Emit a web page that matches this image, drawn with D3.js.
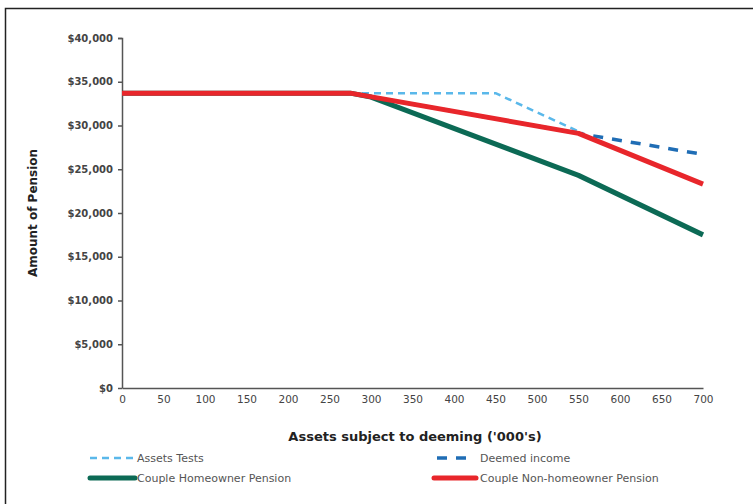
<!DOCTYPE html>
<html><head><meta charset="utf-8">
<script src="https://cdn.jsdelivr.net/npm/d3@7"></script>
<style>body{margin:0;background:#fff}svg{display:block}</style>
</head><body><div id="c"></div>
<script>
const xTicks = [0,50,100,150,200,250,300,350,400,450,500,550,600,650,700];
const yTicks = [0,5000,10000,15000,20000,25000,30000,35000,40000];
const assetsX = [0,450,555];
const assetsY = [33700,33700,29100];
const deemedX = [0,275,550,700];
const deemedY = [33700,33700,29100,26700];
const homeownerX = [0,275,300,550,700];
const homeownerY = [33700,33700,33250,24300,17500];
const nonHomeX = [0,275,550,700];
const nonHomeY = [33700,33700,29100,23300];
const legendLabels = ["Assets Tests","Deemed income","Couple Homeowner Pension","Couple Non-homeowner Pension"];

const W=753,H=504;
const svg=d3.select("#c").append("svg").attr("width",W).attr("height",H);
svg.append("rect").attr("x",5.5).attr("y",8.5).attr("width",760).attr("height",520)
  .attr("fill","none").attr("stroke","#222").attr("stroke-width",1.5);

const x=d3.scaleLinear().domain([0,700]).range([122,703]);
const y=d3.scaleLinear().domain([0,40000]).range([388,38]);

// y axis
const ya=svg.append("g").attr("transform","translate(122,0)")
  .call(d3.axisLeft(y).tickValues(yTicks).tickSize(4).tickPadding(5)
    .tickFormat(d=>"$"+d3.format(",")(d)));
ya.select(".domain").attr("stroke","#555").attr("stroke-width",1.5).attr("d","M-4,38.5H0.5V388.5");
ya.selectAll(".tick line").attr("stroke","#555").attr("stroke-width",1.5);
ya.selectAll("text").attr("font-family","DejaVu Sans").attr("font-size",10).attr("font-weight","bold").attr("fill","#444");

// x axis
const xa=svg.append("g").attr("transform","translate(0,388)")
  .call(d3.axisBottom(x).tickValues(xTicks).tickSize(0).tickPadding(8));
xa.select(".domain").attr("stroke","#555").attr("stroke-width",1.5);
xa.selectAll("text").attr("font-family","DejaVu Sans").attr("font-size",10.5).attr("fill","#444");

svg.append("text").attr("transform","translate(37,213) rotate(-90)").attr("text-anchor","middle")
  .attr("font-family","DejaVu Sans").attr("font-weight","bold").attr("font-size",12).attr("fill","#222")
  .text("Amount of Pension");
svg.append("text").attr("x",415).attr("y",441).attr("text-anchor","middle")
  .attr("font-family","DejaVu Sans").attr("font-weight","bold").attr("font-size",13).attr("fill","#222")
  .text("Assets subject to deeming ('000's)");

const line=d3.line().x(d=>x(d[0])).y(d=>y(d[1]));
const zip=(a,b)=>a.map((v,i)=>[v,b[i]]);
const styles=[
 {c:"#5ab8ea",w:2.5,dash:"7,5"},
 {c:"#1f6db5",w:3.5,dash:"10,9"},
 {c:"#0c6a55",w:5,dash:null},
 {c:"#e8262b",w:5,dash:null}];
const series=[zip(assetsX,assetsY),zip(deemedX,deemedY),zip(homeownerX,homeownerY),zip(nonHomeX,nonHomeY)];
series.forEach((s,i)=>{
  svg.append("path").attr("d",line(s)).attr("fill","none").attr("stroke",styles[i].c)
    .attr("stroke-width",styles[i].w).attr("stroke-dasharray",styles[i].dash)
    .attr("stroke-linejoin","round");
});

// legend
const lg=[{x1:90,x2:135,ty:137,y:458},{x1:437,x2:472,ty:480,y:458},{x1:90,x2:135,ty:137,y:478},{x1:434,x2:476,ty:480,y:478}];
lg.forEach((p,i)=>{
  svg.append("line").attr("x1",p.x1).attr("x2",p.x2).attr("y1",p.y).attr("y2",p.y)
   .attr("stroke",styles[i].c).attr("stroke-width",styles[i].w).attr("stroke-dasharray",styles[i].dash)
   .attr("stroke-linecap",styles[i].dash?"butt":"round");
  svg.append("text").attr("x",p.ty).attr("y",p.y+4).attr("font-family","DejaVu Sans").attr("font-size",11)
   .attr("fill","#555").text(legendLabels[i]);
});
</script></body></html>
